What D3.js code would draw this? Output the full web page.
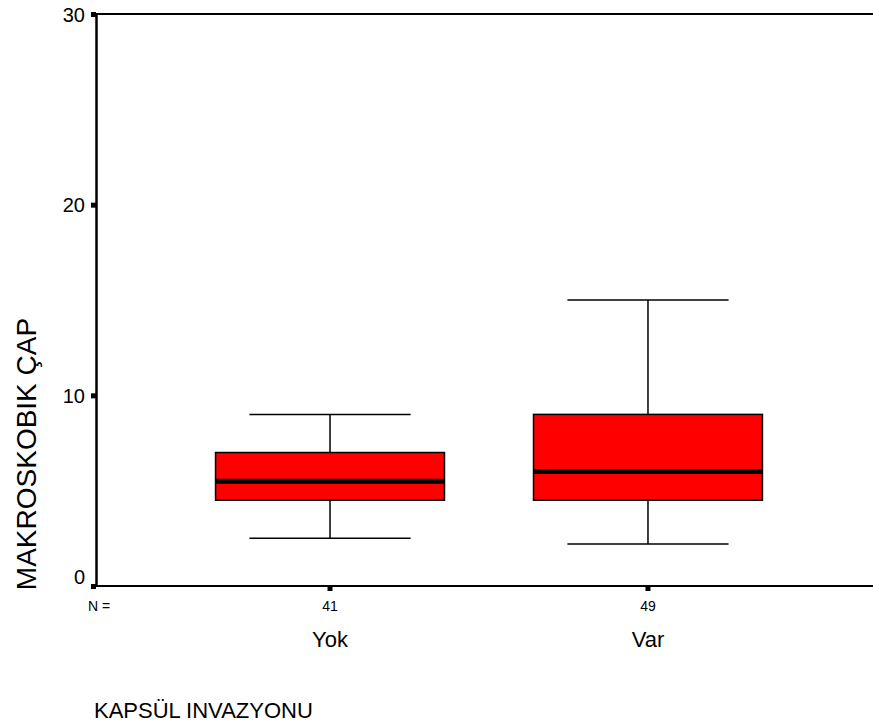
<!DOCTYPE html>
<html>
<head>
<meta charset="utf-8">
<script src="https://cdn.jsdelivr.net/npm/d3@7"></script>
<style>
  body { margin: 0; background: #fff; }
  text { font-family: Arial, "Liberation Sans", sans-serif; fill: #000; }
</style>
</head>
<body>
<svg id="chart"></svg>
<script>
// box plot data
const groups = ['Yok', 'Var'];
const counts = [41, 49];
const lowWhisker = [2.5, 2.2];
const q1 = [4.5, 4.5];
const median = [5.5, 6];
const q3 = [7, 9];
const highWhisker = [9, 15];
const yTicks = [0, 10, 20, 30];

const width = 873;
const height = 725;
const plotLeft = 96, plotRight = 873, plotTop = 14, plotBottom = 586;

const svg = d3.select('#chart')
    .attr('width', width)
    .attr('height', height);

const x = d3.scaleBand()
    .domain(groups)
    .range([plotLeft, 882])
    .paddingInner(0.28)
    .paddingOuter(0.376);

const y = d3.scaleLinear()
    .domain([0, 30])
    .range([plotBottom, plotTop]);

const boxes = groups.map((g, i) => ({
    name: g, n: counts[i], lo: lowWhisker[i], q1: q1[i],
    med: median[i], q3: q3[i], hi: highWhisker[i]
}));

// frame lines
svg.append('line')
    .attr('x1', plotLeft).attr('x2', plotRight)
    .attr('y1', plotTop).attr('y2', plotTop)
    .attr('stroke', '#000').attr('stroke-width', 2);
svg.append('line')
    .attr('x1', plotLeft).attr('x2', plotRight)
    .attr('y1', plotBottom).attr('y2', plotBottom)
    .attr('stroke', '#000').attr('stroke-width', 2);

// y axis
const yAxis = svg.append('g')
    .attr('transform', `translate(${plotLeft},0)`)
    .call(d3.axisLeft(y).tickValues(yTicks).tickSize(0).tickPadding(11));
yAxis.select('.domain').attr('stroke-width', 2.5);
yAxis.selectAll('.tick text')
    .attr('font-size', 20)
    .attr('font-family', 'Arial, "Liberation Sans", sans-serif')
    .attr('dy', d => d === 0 ? '-0.15em' : '0.35em');
yAxis.selectAll('.tick').append('rect')
    .attr('x', -5).attr('y', -2.5).attr('width', 5).attr('height', 5)
    .attr('fill', '#000');

// x axis tick squares
svg.selectAll('.xtick')
    .data(boxes)
    .enter()
    .append('rect')
    .attr('class', 'xtick')
    .attr('x', d => x(d.name) + x.bandwidth() / 2 - 2.5)
    .attr('y', plotBottom)
    .attr('width', 5).attr('height', 5)
    .attr('fill', '#000');

const g = svg.selectAll('.box')
    .data(boxes)
    .enter()
    .append('g')
    .attr('class', 'box');

const cx = d => x(d.name) + x.bandwidth() / 2;
const capHalf = x.bandwidth() * 0.352;

// whiskers
g.append('line')
    .attr('x1', cx).attr('x2', cx)
    .attr('y1', d => y(d.hi)).attr('y2', d => y(d.q3))
    .attr('stroke', '#000').attr('stroke-width', 1.5);
g.append('line')
    .attr('x1', cx).attr('x2', cx)
    .attr('y1', d => y(d.q1)).attr('y2', d => y(d.lo))
    .attr('stroke', '#000').attr('stroke-width', 1.5);
g.append('line')
    .attr('x1', d => cx(d) - capHalf).attr('x2', d => cx(d) + capHalf)
    .attr('y1', d => y(d.hi)).attr('y2', d => y(d.hi))
    .attr('stroke', '#000').attr('stroke-width', 1.5);
g.append('line')
    .attr('x1', d => cx(d) - capHalf).attr('x2', d => cx(d) + capHalf)
    .attr('y1', d => y(d.lo)).attr('y2', d => y(d.lo))
    .attr('stroke', '#000').attr('stroke-width', 1.5);

g.append('rect')
    .attr('x', d => x(d.name))
    .attr('y', d => y(d.q3))
    .attr('width', x.bandwidth())
    .attr('height', d => y(d.q1) - y(d.q3))
    .attr('fill', '#ff0000')
    .attr('stroke', '#000')
    .attr('stroke-width', 1.5);

g.append('line')
    .attr('x1', d => x(d.name)).attr('x2', d => x(d.name) + x.bandwidth())
    .attr('y1', d => y(d.med)).attr('y2', d => y(d.med))
    .attr('stroke', '#000').attr('stroke-width', 5);

// counts and labels
svg.append('text')
    .attr('x', 88).attr('y', 611)
    .attr('font-size', 14)
    .text('N =');

svg.selectAll('.count')
    .data(boxes)
    .enter()
    .append('text')
    .attr('x', cx).attr('y', 611)
    .attr('text-anchor', 'middle')
    .attr('font-size', 14)
    .text(d => d.n);

svg.selectAll('.cat')
    .data(boxes)
    .enter()
    .append('text')
    .attr('x', cx).attr('y', 647)
    .attr('text-anchor', 'middle')
    .attr('font-size', 22)
    .text(d => d.name);

svg.append('text')
    .attr('transform', 'translate(36,454) rotate(-90)')
    .attr('text-anchor', 'middle')
    .attr('font-size', 28)
    .text('MAKROSKOBIK ÇAP');

svg.append('text')
    .attr('x', 94).attr('y', 718)
    .attr('font-size', 22)
    .text('KAPSÜL INVAZYONU');
</script>
</body>
</html>
